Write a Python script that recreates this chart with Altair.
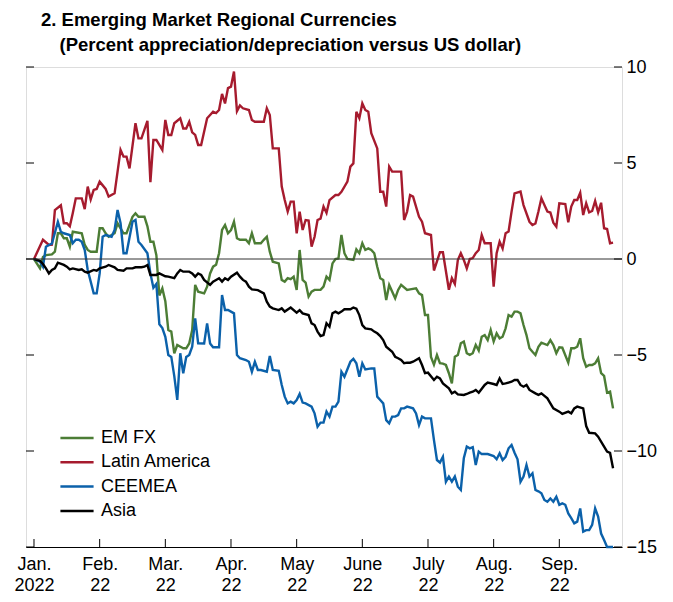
import altair as alt
import pandas as pd

# ---------------- data (trading-day index since 3 Jan 2022, % vs US dollar) ----------------
month_labels = ["Jan.", "Feb.", "Mar.", "Apr.", "May", "June", "July", "Aug.", "Sep."]
year_labels = ["2022", "22", "22", "22", "22", "22", "22", "22", "22"]
month_tick_days = [0, 22, 44, 66, 88, 110, 132, 154, 176]
y_tick_values = [-15, -10, -5, 0, 5, 10]

series_names = ["EM FX", "Latin America", "CEEMEA", "Asia"]
series_colors = ["#4C7D35", "#A61B2E", "#0B61AA", "#000000"]

emfx_day = [0, 2, 3, 4, 6, 7, 8, 9, 10, 11, 12, 13, 16, 17, 18, 19, 21, 22, 23, 24, 25, 27, 28, 30, 31,
            33, 34, 35, 37, 38, 39, 40, 41, 42, 43, 44, 45, 46, 47, 48, 50, 51, 52, 53, 54, 55, 57, 58,
            59, 60, 61, 62, 63, 64, 65, 66, 67, 68, 69, 71, 72, 73, 74, 76, 77, 78, 79, 80, 82, 83, 84,
            85, 86, 87, 88, 89, 90, 91, 92, 93, 94, 96, 97, 98, 99, 100, 101, 102, 103, 104, 105, 107,
            108, 109, 110, 111, 112, 113, 114, 115, 116, 117, 118, 119, 121, 122, 123, 125, 126, 128,
            129, 130, 131, 132, 133, 134, 135, 136, 137, 138, 139, 140, 141, 142, 143, 144, 145, 146,
            147, 148, 149, 150, 151, 152, 153, 154, 155, 156, 157, 158, 159, 160, 161, 162, 163, 164,
            165, 166, 167, 168, 169, 170, 172, 173, 174, 175, 176, 177, 179, 180, 181, 182, 183, 184,
            185, 186, 187, 188, 189, 190, 191, 192, 193, 194]
emfx_val = [0.0, -0.49, 0.1, 0.2, 0.24, 0.38, 1.34, 1.34, 1.08, 1.08, 0.64, 1.42, 1.34, 0.73, 0.47, 0.38,
            0.38, 1.6, 1.6, 1.34, 1.16, 1.34, 1.86, 1.34, 1.34, 2.2, 2.38, 2.2, 2.2, 1.7, 0.9, 0.9, 0.2,
            -1.9, -1.53, -2.2, -3.7, -3.78, -4.91, -4.48, -4.65, -4.65, -4.4, -3.7, -1.35, -1.7, -1.79,
            -1.44, -0.75, -0.4, -0.3, 0.3, 1.51, 1.77, 1.34, 1.5, 1.94, 1.08, 1.0, 1.0, 0.82, 1.34, 0.82,
            0.82, 1.0, 1.16, 0.38, -0.14, -0.23, -1.09, -1.18, -1.0, -1.05, -0.92, -1.61, 0.47, -1.09,
            -1.23, -1.96, -1.7, -1.61, -1.61, -1.44, -0.92, -1.09, -0.23, 0.0, 0.03, 1.25, 0.3, 0.0,
            -0.05, 0.5, 0.3, 0.82, 0.47, 0.55, 0.47, 0.3, -0.4, -1.0, -1.09, -2.14, -1.35, -2.05, -1.61,
            -1.35, -1.61, -1.58, -1.53, -1.79, -1.88, -2.92, -2.92, -5.1, -5.5, -5.0, -5.43, -5.45,
            -5.52, -5.95, -6.48, -5.09, -5.0, -4.39, -4.3, -4.91, -4.99, -4.91, -4.48, -4.77, -4.05,
            -3.96, -4.22, -3.7, -4.3, -3.87, -4.13, -4.05, -3.61, -2.92, -3.0, -2.74, -2.74, -2.83,
            -3.44, -3.96, -4.65, -4.83, -5.0, -4.57, -4.36, -4.48, -4.22, -4.48, -4.91, -4.6, -4.62,
            -5.4, -4.65, -4.65, -4.57, -4.13, -5.17, -5.61, -5.52, -5.52, -5.43, -5.17, -5.95, -6.09,
            -6.96, -6.91, -7.78]

latam_day = [0, 3, 5, 6, 7, 9, 10, 11, 12, 13, 14, 16, 17, 18, 19, 20, 21, 22, 24, 25, 27, 29, 30, 31,
             32, 34, 35, 36, 38, 39, 40, 41, 43, 44, 45, 46, 47, 49, 50, 51, 52, 53, 54, 55, 56, 58, 59,
             60, 61, 62, 63, 64, 65, 66, 67, 68, 69, 70, 72, 73, 74, 77, 78, 79, 80, 82, 83, 84, 85, 86,
             87, 88, 89, 90, 91, 92, 93, 94, 95, 96, 97, 98, 99, 101, 102, 103, 105, 106, 107, 108, 109,
             110, 111, 112, 113, 115, 116, 117, 118, 119, 120, 123, 124, 125, 126, 127, 129, 130, 131,
             133, 134, 136, 137, 139, 140, 141, 142, 143, 144, 145, 146, 147, 148, 149, 150, 151, 153,
             154, 155, 156, 157, 158, 159, 160, 161, 163, 164, 166, 167, 168, 169, 170, 171, 172, 173,
             174, 175, 176, 178, 179, 180, 181, 182, 183, 184, 185, 186, 187, 188, 189, 190, 191, 192,
             193, 194]
latam_val = [0.0, 1.0, 0.73, 0.75, 2.55, 2.8, 1.86, 1.86, 1.7, 2.4, 3.16, 3.16, 2.6, 3.77, 3.1, 3.6,
             3.65, 4.03, 3.65, 3.25, 3.42, 5.68, 5.33, 5.33, 4.72, 7.07, 6.28, 6.28, 7.2, 4.0, 6.2, 6.2,
             5.68, 7.24, 6.46, 6.46, 7.07, 7.33, 6.8, 6.8, 7.15, 6.6, 6.46, 5.94, 5.94, 7.33, 7.5, 7.67,
             7.6, 7.76, 8.6, 8.1, 8.9, 8.98, 9.76, 7.7, 8.0, 7.85, 7.76, 7.24, 7.15, 7.15, 7.85, 7.5,
             5.76, 5.76, 3.77, 3.07, 2.47, 2.99, 2.99, 1.34, 2.47, 1.51, 2.03, 2.0, 0.64, 1.16, 2.03,
             2.1, 2.73, 2.4, 3.07, 3.33, 3.33, 3.5, 4.03, 4.81, 4.98, 7.67, 7.33, 8.1, 7.76, 7.67, 6.55,
             5.76, 3.5, 3.5, 2.73, 4.81, 4.55, 4.55, 2.03, 2.47, 3.33, 3.25, 2.2, 1.94, 1.34, 1.25, -0.6,
             0.35, 0.35, -1.6, -1.0, -1.3, -0.05, 0.3, -0.05, -0.49, 0.0, 0.05, 0.3, 0.47, 1.25, 0.82,
             0.82, -1.44, 0.3, 0.9, 0.55, 1.34, 1.43, 2.47, 3.42, 3.51, 2.81, 1.94, 1.77, 1.85, 2.47,
             3.16, 2.81, 2.47, 2.42, 1.89, 1.68, 2.9, 2.86, 1.91, 2.73, 3.07, 3.07, 3.45, 2.29, 2.9,
             2.43, 2.5, 3.02, 2.43, 2.93, 1.6, 1.56, 0.82, 0.85]

ceemea_day = [0, 2, 3, 4, 5, 6, 8, 9, 10, 12, 13, 14, 15, 16, 17, 18, 20, 21, 22, 23, 24, 26, 27, 28,
              29, 30, 31, 33, 34, 35, 36, 38, 39, 40, 41, 42, 43, 44, 45, 46, 47, 48, 49, 50, 51, 52,
              53, 54, 55, 57, 58, 59, 60, 62, 63, 64, 65, 67, 68, 69, 71, 72, 73, 74, 75, 76, 78, 79,
              80, 82, 83, 84, 85, 86, 87, 88, 89, 90, 91, 93, 94, 95, 96, 97, 98, 99, 100, 101, 102,
              103, 104, 106, 107, 108, 109, 110, 111, 113, 114, 115, 116, 117, 118, 119, 120, 121,
              122, 123, 124, 125, 127, 128, 129, 130, 131, 132, 133, 134, 135, 136, 137, 138, 139,
              140, 141, 142, 143, 144, 145, 146, 147, 148, 149, 150, 152, 154, 155, 156, 157, 158,
              159, 160, 161, 162, 163, 164, 165, 166, 167, 168, 169, 170, 171, 172, 173, 174, 175,
              176, 177, 178, 179, 180, 181, 182, 183, 184, 185, 186, 187, 188, 189, 190, 191, 192, 194]
ceemea_val = [0.0, -0.14, -0.4, 0.64, 0.73, 0.8, 1.94, 1.42, 1.34, 1.25, 0.82, 1.0, 1.0, 0.9, 0.47,
              -0.57, -1.79, -1.79, -0.75, 1.16, 1.25, 1.16, 1.51, 2.55, 1.86, 0.3, 0.3, 1.94, 2.03, 0.9,
              0.73, 0.3, -0.75, -1.5, -1.3, -3.4, -3.6, -4.05, -5.0, -5.1, -6.1, -7.34, -4.91, -5.95,
              -5.1, -5.0, -4.57, -3.09, -4.39, -4.4, -3.35, -4.4, -4.6, -4.6, -1.88, -2.66, -2.66, -2.83,
              -5.0, -5.17, -5.26, -5.35, -5.87, -5.35, -5.78, -5.78, -5.87, -5.05, -5.78, -5.82, -6.56,
              -7.17, -7.52, -7.43, -7.52, -7.35, -7.03, -7.48, -7.52, -7.69, -8.04, -8.73, -8.52, -8.52,
              -7.95, -8.21, -7.69, -7.69, -7.43, -5.87, -6.13, -5.35, -5.2, -5.43, -6.13, -5.43, -5.75,
              -5.7, -5.7, -7.17, -7.34, -7.52, -8.39, -8.56, -8.21, -8.21, -8.13, -7.78, -7.78, -7.69,
              -7.78, -8.04, -8.65, -8.21, -8.3, -8.3, -8.3, -9.43, -10.47, -10.6, -10.3, -11.6, -11.33,
              -11.6, -11.33, -11.86, -12.03, -10.38, -9.77, -9.86, -9.8, -10.73, -10.03, -10.16, -10.16,
              -10.26, -10.43, -10.12, -10.47, -10.3, -9.86, -9.69, -10.09, -10.43, -11.6, -11.33,
              -10.73, -11.33, -11.16, -12.03, -12.1, -12.2, -12.55, -12.64, -12.47, -12.64, -12.38,
              -12.8, -12.73, -12.8, -13.25, -13.5, -13.77, -13.68, -12.99, -14.2, -14.12, -14.12,
              -13.85, -12.99, -13.42, -14.3, -14.64, -15.0, -15.0]

asia_day = [0, 2, 3, 4, 5, 6, 7, 8, 10, 11, 12, 13, 15, 16, 17, 18, 20, 21, 22, 24, 25, 27, 28, 30, 31,
            33, 34, 36, 37, 38, 39, 40, 41, 42, 44, 45, 47, 48, 49, 50, 52, 53, 54, 55, 56, 57, 59, 60,
            61, 62, 63, 64, 65, 66, 68, 69, 70, 71, 72, 73, 75, 77, 78, 79, 80, 82, 83, 84, 86, 88, 89,
            90, 92, 93, 94, 95, 96, 97, 98, 99, 100, 101, 102, 103, 104, 106, 107, 108, 109, 110, 111,
            113, 114, 115, 116, 117, 118, 120, 121, 122, 123, 124, 125, 126, 127, 129, 130, 131, 132,
            134, 135, 136, 137, 139, 140, 141, 142, 144, 145, 146, 147, 148, 149, 151, 152, 154, 155,
            156, 157, 158, 160, 161, 162, 163, 164, 165, 166, 168, 169, 170, 172, 173, 174, 176, 177,
            179, 180, 181, 182, 184, 185, 186, 188, 189, 191, 192, 193, 194]
asia_val = [0.0, -0.1, -0.26, -0.49, -0.75, -0.57, -0.49, -0.19, -0.31, -0.4, -0.54, -0.49, -0.57, -0.54,
            -0.66, -0.71, -0.57, -0.61, -0.49, -0.4, -0.31, -0.43, -0.57, -0.61, -0.49, -0.49, -0.43,
            -0.43, -0.4, -0.31, -0.83, -0.83, -0.83, -0.75, -0.9, -0.92, -1.0, -0.75, -0.57, -0.66,
            -0.66, -0.75, -0.92, -0.75, -0.83, -1.09, -1.35, -1.18, -1.09, -1.0, -1.18, -1.0, -1.09,
            -0.92, -0.71, -0.92, -1.09, -1.18, -1.44, -1.58, -1.62, -1.79, -2.22, -2.48, -2.57, -2.66,
            -2.57, -2.74, -2.53, -2.79, -2.66, -2.83, -2.92, -3.35, -3.44, -3.78, -4.01, -3.96, -3.35,
            -3.53, -2.83, -2.74, -2.83, -2.74, -2.62, -2.62, -2.53, -2.59, -2.92, -3.44, -3.61, -3.66,
            -3.78, -3.87, -4.01, -4.22, -4.57, -4.83, -5.09, -5.17, -5.26, -5.43, -5.4, -5.4, -5.35,
            -5.17, -5.52, -5.95, -5.92, -6.3, -6.13, -6.22, -6.48, -6.74, -7.0, -6.91, -7.05, -7.08,
            -7.03, -6.96, -6.91, -6.82, -6.96, -6.56, -6.44, -6.51, -6.56, -6.22, -6.51, -6.48, -6.39,
            -6.3, -6.3, -6.56, -6.65, -6.56, -6.82, -7.0, -7.08, -7.0, -7.26, -7.52, -7.78, -7.95,
            -8.07, -7.95, -8.04, -7.78, -7.69, -7.78, -8.7, -9.05, -9.08, -9.25, -9.77, -10.03, -10.1,
            -10.9]

# ---------------- build tables ----------------
rows = []
for name, days, vals in [("EM FX", emfx_day, emfx_val), ("Latin America", latam_day, latam_val),
                         ("CEEMEA", ceemea_day, ceemea_val), ("Asia", asia_day, asia_val)]:
    for d, v in zip(days, vals):
        rows.append({"series": name, "day": d, "value": v, "order": series_names.index(name)})
df = pd.DataFrame(rows)
yticks_df = pd.DataFrame({"value": y_tick_values})
xticks_df = pd.DataFrame({"day": month_tick_days})
zero_df = pd.DataFrame({"value": [0]})

FONT = "Liberation Sans, Arial, Helvetica, sans-serif"
W, H = 596, 480
TICK = 8

x_scale = alt.Scale(domain=[-2.68, 197.0], nice=False, zero=False)
y_scale = alt.Scale(domain=[-15, 10], nice=False, zero=False)

m_js = "[" + ",".join("'%s'" % m for m in month_labels) + "]"
y_js = "[" + ",".join("'%s'" % y for y in year_labels) + "]"
label_expr = f"[{m_js}[round(datum.value/22)], {y_js}[round(datum.value/22)]]"

x_axis = alt.Axis(values=month_tick_days, labelExpr=label_expr, ticks=False, grid=False,
                  domain=True, domainColor="black", domainWidth=1, labelFont=FONT,
                  labelFontSize=18, labelColor="black", labelPadding=8, labelLineHeight=21,
                  labelBaseline="top", title=None, labelFlush=False, labelOverlap=False)
y_axis = alt.Axis(orient="right", values=y_tick_values, ticks=False, grid=False, domain=False,
                  labelFont=FONT, labelFontSize=18, labelColor="black", labelPadding=4,
                  title=None, labelOverlap=False, labelFlush=False)

X = alt.X("day:Q", scale=x_scale, axis=x_axis)
Y = alt.Y("value:Q", scale=y_scale, axis=y_axis)

lines = alt.Chart(df).mark_line(strokeWidth=2.4, interpolate="linear").encode(
    x=X,
    y=Y,
    color=alt.Color("series:N",
                    scale=alt.Scale(domain=series_names, range=series_colors),
                    legend=alt.Legend(orient="none", legendX=41, legendY=361, title=None,
                                      symbolType="M-2,0H2", symbolSize=275,
                                      symbolStrokeWidth=2.5, labelFont=FONT, labelFontSize=18,
                                      labelColor="black", labelOffset=14, padding=0,
                                      rowPadding=5.3)),
    order=alt.Order("order:Q"),
)

zero_rule = alt.Chart(zero_df).mark_rule(color="#333333", strokeWidth=1).encode(
    y=Y, x=alt.value(0), x2=alt.value(W),
)
left_ticks = alt.Chart(yticks_df).mark_rule(color="black", strokeWidth=1).encode(
    y=Y, x=alt.value(0), x2=alt.value(TICK))
right_ticks = alt.Chart(yticks_df).mark_rule(color="black", strokeWidth=1).encode(
    y=Y, x=alt.value(W - TICK), x2=alt.value(W))
bottom_ticks = alt.Chart(xticks_df).mark_rule(color="black", strokeWidth=1).encode(
    x=X, y=alt.value(H - TICK), y2=alt.value(H))

title = alt.TitleParams(
    text=["2. Emerging Market Regional Currencies",
          "\u200b\u2002\u2002(Percent appreciation/depreciation versus US dollar)"],
    anchor="start", frame="group", font=FONT, fontSize=18.5, fontWeight="bold",
    color="black", lineHeight=25, dx=15, offset=4,
)

chart = alt.layer(lines, zero_rule, left_ticks, right_ticks, bottom_ticks).properties(
    width=W, height=H, title=title,
    padding={"left": 5, "top": 2, "right": 0, "bottom": 0},
).configure_view(stroke=None).configure(background="white")

chart.save("out.html", embed_options={"renderer": "svg", "actions": False})
